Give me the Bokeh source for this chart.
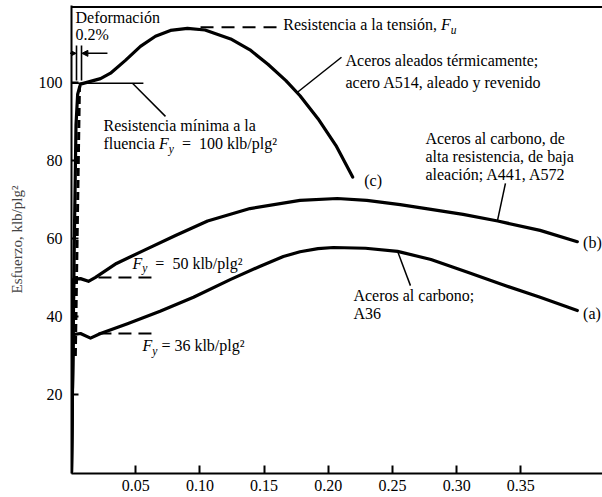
from bokeh.plotting import figure
from bokeh.models import Label, Span, FixedTicker, Arrow, NormalHead, Range1d
from bokeh.embed import file_html
from bokeh.resources import INLINE

# ---------------- data (strain, stress in klb/plg^2) ----------------
strain_a = [0.0, 0.0012, 0.007, 0.0148, 0.0226, 0.0436, 0.069, 0.095, 0.124, 0.147,
            0.165, 0.178, 0.192, 0.204, 0.229, 0.254, 0.280, 0.308, 0.336, 0.365, 0.394]
stress_a = [0.0, 35.3, 35.6, 34.4, 35.6, 38.1, 41.3, 44.9, 49.5, 52.9,
            55.4, 56.6, 57.4, 57.7, 57.5, 56.7, 54.6, 51.4, 48.1, 44.9, 41.5]

strain_b = [0.0, 0.0017, 0.007, 0.0132, 0.0187, 0.035, 0.056, 0.081, 0.106, 0.139, 0.178,
            0.207, 0.230, 0.256, 0.280, 0.305, 0.332, 0.365, 0.394]
stress_b = [0.0, 49.6, 49.7, 49.0, 50.0, 53.6, 56.9, 60.8, 64.5, 67.7, 69.8,
            70.3, 69.8, 68.7, 67.5, 66.2, 64.5, 62.1, 59.2]

strain_c = [0.0, 0.0022, 0.0035, 0.0048, 0.007, 0.0226, 0.0304, 0.042, 0.0537, 0.0654,
            0.0771, 0.0903, 0.104, 0.124, 0.139, 0.153, 0.167, 0.178, 0.192, 0.206, 0.219]
stress_c = [0.0, 59.5, 89.2, 97.1, 99.7, 101.1, 102.5, 105.8, 109.4, 112.0,
            113.5, 114.0, 113.6, 111.3, 108.5, 104.8, 100.6, 96.7, 90.8, 83.9, 75.8]

offset_strain = [0.0030, 0.0062]
offset_stress = [29.8, 99.1]

yield_levels = [35.6, 50.0, 99.9]
fu_level = 114.3
x_ticks = [0.05, 0.10, 0.15, 0.20, 0.25, 0.30, 0.35]
x_tick_labels = ["0.05", "0.10", "0.15", "0.20", "0.25", "0.30", "0.35"]
y_ticks = [20, 40, 60, 80, 100]
y_tick_labels = ["20", "40", "60", "80", "100"]

FONT = "Liberation Serif"
FS = 16

# Times / Liberation Serif advance widths (per 1000 em)
W = {' ': 250, 'a': 444, 'b': 500, 'c': 444, 'd': 500, 'e': 444, 'f': 333, 'g': 500, 'h': 500,
     'i': 278, 'j': 278, 'k': 500, 'l': 278, 'm': 778, 'n': 500, 'o': 500, 'p': 500, 'q': 500,
     'r': 333, 's': 389, 't': 278, 'u': 500, 'v': 500, 'w': 722, 'x': 500, 'y': 444, 'z': 444,
     'A': 722, 'F': 611, 'R': 667, '=': 564, '/': 278, ',': 250, '.': 250, ';': 278, '(': 333,
     ')': 333, '%': 833, 'í': 278, 'ó': 500, 'é': 444, '²': 300}


def tw(s, size):
    return sum(W.get(ch, 500) for ch in s) * size / 1000.0


p = figure(width=602, height=497, output_backend="svg", toolbar_location=None,
           x_range=Range1d(0, 0.4136), y_range=Range1d(-0.39, 119.9),
           min_border_left=71, min_border_right=0, min_border_top=5, min_border_bottom=24)
p.outline_line_color = None
p.xgrid.visible = False
p.ygrid.visible = False
p.background_fill_color = "white"
p.border_fill_color = "white"

for ax in (p.xaxis[0], p.yaxis[0]):
    ax.axis_line_width = 2
    ax.axis_line_color = "black"
    ax.major_tick_line_width = 2
    ax.major_tick_line_color = "black"
    ax.minor_tick_line_color = None
    ax.major_tick_out = 0
    ax.major_label_text_font = FONT
    ax.major_label_text_font_size = f"{FS}px"
    ax.major_label_text_color = "black"

p.xaxis.ticker = FixedTicker(ticks=x_ticks)
p.xaxis.major_label_overrides = dict(zip(x_ticks, x_tick_labels))
p.xaxis.major_tick_in = 8
p.xaxis.major_label_standoff = 6

p.yaxis.ticker = FixedTicker(ticks=y_ticks)
p.yaxis.major_label_overrides = dict(zip(y_ticks, y_tick_labels))
p.yaxis.major_tick_in = 7
p.yaxis.major_label_standoff = 9
p.yaxis.axis_label = "Esfuerzo, klb/plg²"
p.yaxis.axis_label_text_font = FONT
p.yaxis.axis_label_text_font_style = "normal"
p.yaxis.axis_label_text_font_size = "15px"
p.yaxis.axis_label_standoff = 11

# top border line of the frame
p.add_layout(Span(location=119.5, dimension="width", line_color="black", line_width=2))

# curves
for xs, ys in ((strain_a, stress_a), (strain_b, stress_b), (strain_c, stress_c)):
    p.line(xs, ys, line_color="black", line_width=3.2, line_join="round", line_cap="round")
p.line(offset_strain, offset_stress, line_color="black", line_width=3, line_dash="8 4")

# dashed yield / ultimate indicators
p.line([0.0210, 0.0632], [yield_levels[1]] * 2, line_color="black", line_width=2, line_dash="13 7")
p.line([0.0210, 0.0632], [yield_levels[0]] * 2, line_color="black", line_width=2, line_dash="13 7")
p.line([0.1005, 0.1600], [fu_level] * 2, line_color="black", line_width=2, line_dash="13 8")
p.line([0.0, 0.056], [yield_levels[2]] * 2, line_color="black", line_width=1.6)

# 0.2% offset marks
p.line([0.0039, 0.0039], [100.6, 109.6], line_color="black", line_width=1.6)
p.line([0.0078, 0.0078], [100.6, 109.6], line_color="black", line_width=1.6)
p.add_layout(Arrow(end=NormalHead(size=6, fill_color="black", line_color="black"),
                   x_start=-0.014, y_start=107.6, x_end=0.0036, y_end=107.6, line_width=1.5))
p.add_layout(Arrow(end=NormalHead(size=6, fill_color="black", line_color="black"),
                   x_start=0.028, y_start=107.6, x_end=0.0081, y_end=107.6, line_width=1.5))

# leader lines
leaders = [([0.0475, 0.0732], [99.9, 91.4]),
           ([0.1760, 0.2103], [97.6, 106.6]),
           ([0.3318, 0.3380], [64.6, 74.2]),
           ([0.2539, 0.2640], [56.8, 47.9])]
for xs, ys in leaders:
    p.line(xs, ys, line_color="black", line_width=1.5)


def rich(x, y, parts, size=FS):
    off = 0.0
    for text, kind in parts:
        if kind == "n":
            fs, style, dy = size, "normal", 0
        elif kind == "i":
            fs, style, dy = size, "italic", 0
        else:  # subscript
            fs, style, dy = size * 0.72, "italic", -5
        stripped = text.lstrip(" ")
        off += tw(text[:len(text) - len(stripped)], fs)
        body = stripped.rstrip(" ")
        p.add_layout(Label(x=x, y=y, x_offset=off, y_offset=dy, text=body, text_font=FONT,
                           text_font_size=f"{fs:.1f}px", text_font_style=style,
                           text_baseline="middle", text_align="left", text_color="black"))
        off += tw(stripped, fs)


rich(0.0031, 116.8, [("Deformación", "n")])
rich(0.0031, 112.5, [("0.2%", "n")])
rich(0.165, 115.0, [("Resistencia a la tensión, ", "n"), ("F", "i"), ("u", "s")])
rich(0.2134, 105.8, [("Aceros aleados térmicamente;", "n")])
rich(0.2134, 100.1, [("acero A514, aleado y revenido", "n")])
rich(0.0249, 89.1, [("Resistencia mínima a la", "n")])
rich(0.0249, 84.4, [("fluencia ", "n"), ("F", "i"), ("y", "s"), ("  =  ", "n"),
                    ("100 klb/plg²", "n")])
rich(0.228, 74.9, [("(c)", "n")])
rich(0.2757, 85.7, [("Aceros al carbono, de", "n")])
rich(0.2757, 81.1, [("alta resistencia, de baja", "n")])
rich(0.2757, 76.5, [("aleación; A441, A572", "n")])
rich(0.3985, 59.0, [("(b)", "n")])
rich(0.0475, 53.6, [("F", "i"), ("y", "s"), ("  =  ", "n"), ("50 klb/plg²", "n")])
rich(0.2196, 45.4, [("Aceros al carbono;", "n")])
rich(0.2196, 40.7, [("A36", "n")])
rich(0.3985, 40.7, [("(a)", "n")])
rich(0.0553, 32.5, [("F", "i"), ("y", "s"), (" = ", "n"), ("36 klb/plg²", "n")])

open("out.html", "w").write(file_html(p, INLINE))
